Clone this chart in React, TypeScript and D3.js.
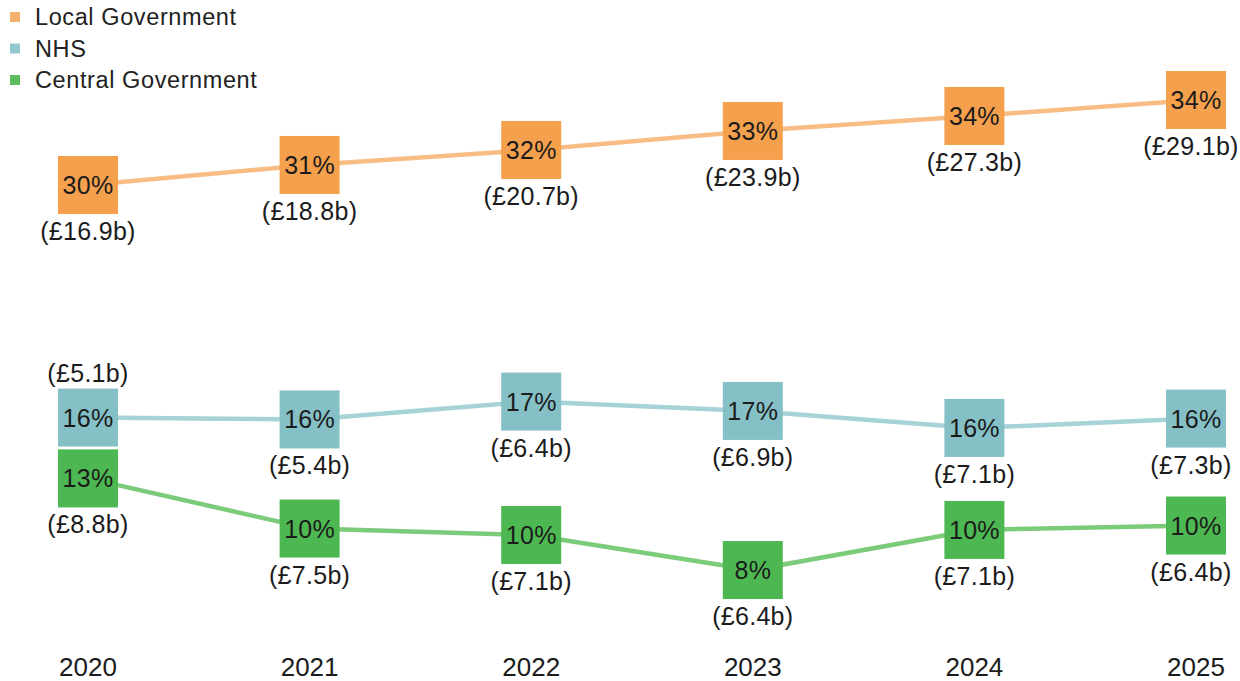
import React from "react";
import * as d3 from "d3";

const years = ["2020", "2021", "2022", "2023", "2024", "2025"];

const seriesNames = ["Local Government", "NHS", "Central Government"];

// plotted share (%)
const localValues = [30.0, 31.18, 32.06, 33.18, 34.06, 35.0];
const nhsValues = [16.32, 16.21, 17.26, 16.71, 15.71, 16.26];
const centralValues = [12.74, 9.79, 9.41, 7.35, 9.71, 9.97];

// displayed labels
const localPct = ["30%", "31%", "32%", "33%", "34%", "34%"];
const nhsPct = ["16%", "16%", "17%", "17%", "16%", "16%"];
const centralPct = ["13%", "10%", "10%", "8%", "10%", "10%"];

const localSpend = ["(£16.9b)", "(£18.8b)", "(£20.7b)", "(£23.9b)", "(£27.3b)", "(£29.1b)"];
const nhsSpend = ["(£5.1b)", "(£5.4b)", "(£6.4b)", "(£6.9b)", "(£7.1b)", "(£7.3b)"];
const centralSpend = ["(£8.8b)", "(£7.5b)", "(£7.1b)", "(£6.4b)", "(£7.1b)", "(£6.4b)"];

// label placement: "above" or "below"
const nhsLabelPos = ["above", "below", "below", "below", "below", "below"];

const W = 1240;
const H = 681;
const BOX_W = 60;
const BOX_H = 58;
const FONT = "'Liberation Sans', Arial, sans-serif";

export default function App() {
  const x = d3.scalePoint<string>().domain(years).range([88, 1196]);
  const y = d3.scaleLinear().domain([7, 35]).range([576, 100]);

  const series = [
    { name: seriesNames[0], values: localValues, pct: localPct, spend: localSpend, pos: years.map(() => "below"), box: "#F5A04C", line: "#F8BD85", legend: "#F6B06E" },
    { name: seriesNames[1], values: nhsValues, pct: nhsPct, spend: nhsSpend, pos: nhsLabelPos, box: "#85C0C7", line: "#A5D3D6", legend: "#93C8CE" },
    { name: seriesNames[2], values: centralValues, pct: centralPct, spend: centralSpend, pos: years.map(() => "below"), box: "#4DB851", line: "#7BCB7B", legend: "#5CBD5E" },
  ];

  const line = d3
    .line<number>()
    .x((_, i) => x(years[i]) as number)
    .y((d) => y(d))
    .curve(d3.curveLinear);

  return (
    <svg width={W} height={H} style={{ position: "absolute", left: 0, top: 0, background: "#fff" }} fontFamily={FONT}>
      {/* legend */}
      {series.map((s, i) => (
        <g key={s.name} transform={`translate(10, ${17 + i * 31.5})`}>
          <rect x={0} y={-5} width={10} height={10} fill={s.legend} />
          <text x={25} y={0} dominantBaseline="central" fontSize={23.5} letterSpacing={0.6} fill="#222">
            {s.name}
          </text>
        </g>
      ))}

      {/* lines */}
      {series.map((s) => (
        <path key={s.name + "-line"} d={line(s.values) || ""} fill="none" stroke={s.line} strokeWidth={4.5} strokeLinejoin="round" />
      ))}

      {/* boxes and labels */}
      {series.map((s) => (
        <g key={s.name + "-marks"}>
          {s.values.map((v, i) => {
            const cx = x(years[i]) as number;
            const cy = y(v);
            const labelY = s.pos[i] === "above" ? cy - BOX_H / 2 - 7 : cy + BOX_H / 2 + 26;
            const labelX = Math.min(cx, W - 49);
            return (
              <g key={i}>
                <rect x={cx - BOX_W / 2} y={cy - BOX_H / 2} width={BOX_W} height={BOX_H} fill={s.box} />
                <text x={cx} y={cy + 9} textAnchor="middle" fontSize={25} letterSpacing={0.3} fill="#1b1b1b">
                  {s.pct[i]}
                </text>
                <text x={labelX} y={labelY} textAnchor="middle" fontSize={25} letterSpacing={0.3} fill="#1b1b1b">
                  {s.spend[i]}
                </text>
              </g>
            );
          })}
        </g>
      ))}

      {/* x axis labels */}
      {years.map((yr) => (
        <text key={yr} x={x(yr) as number} y={676} textAnchor="middle" fontSize={26} fill="#1b1b1b">
          {yr}
        </text>
      ))}
    </svg>
  );
}
